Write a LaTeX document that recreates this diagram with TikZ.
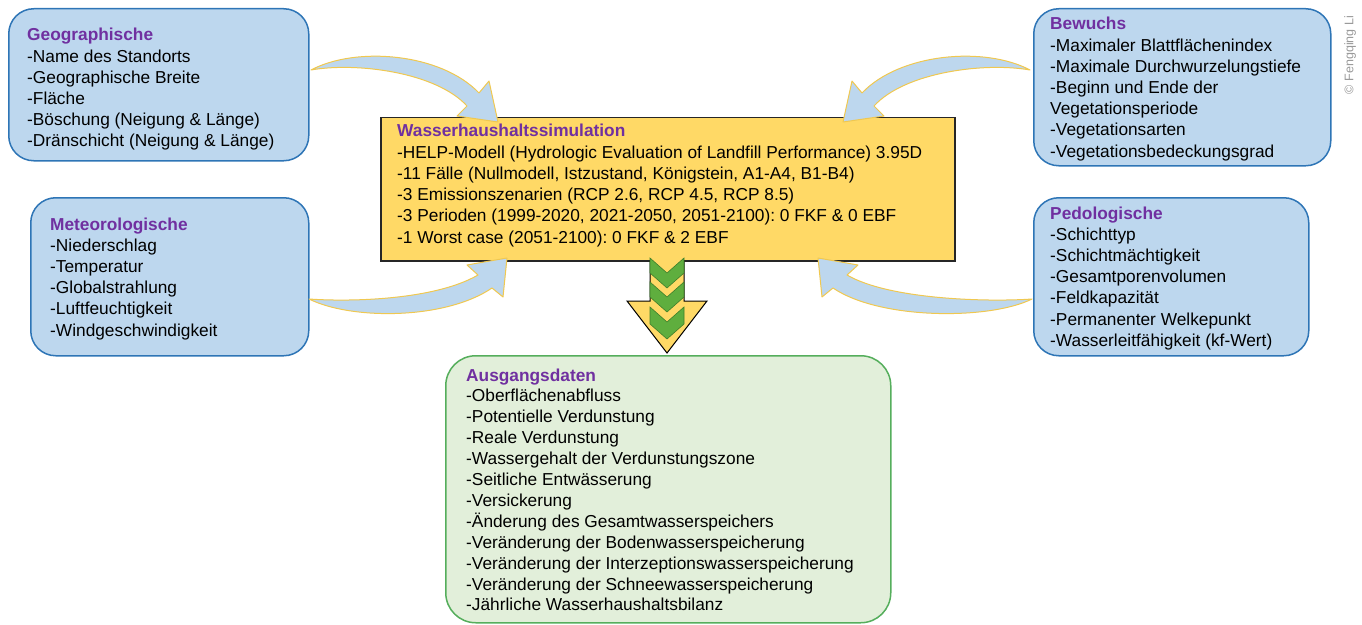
\documentclass[tikz,border=0pt]{standalone}
\usepackage{fontspec}
\setmainfont{Liberation Sans}
\definecolor{bfill}{HTML}{BDD7EE}
\definecolor{bline}{HTML}{2E75B6}
\definecolor{yfill}{HTML}{FFD966}
\definecolor{gfill}{HTML}{E2EFDA}
\definecolor{gline}{HTML}{55AE5C}
\definecolor{chev}{HTML}{5FAE3E}
\definecolor{chevline}{HTML}{3F7F2A}
\definecolor{ttlcol}{HTML}{7030A0}
\definecolor{arrline}{HTML}{F0C850}
\newcommand\ttl[1]{\textcolor{ttlcol}{\bfseries #1}}
\frenchspacing
\begin{document}
\begin{tikzpicture}[x=1bp,y=-1bp,
  bluebox/.style={draw=bline, line width=1.5bp, fill=bfill, rounded corners=25bp, anchor=north west, inner sep=0pt},
  centerbox/.style={draw=black!85, line width=1.5bp, fill=yfill, anchor=north west, inner sep=0pt},
  greenbox/.style={draw=gline, line width=1.5bp, fill=gfill, rounded corners=30bp, anchor=north west, inner sep=0pt},
  txt/.style={anchor=base west, inner sep=0pt, font=\fontsize{17.3bp}{21.2bp}\selectfont},
  curvarr/.style={fill=bfill, draw=arrline, line width=1bp, line join=round},
  downarr/.style={fill=yfill, draw=black, line width=1bp, line join=miter},
  chevron/.style={fill=chev, draw=chevline, line width=0.6bp}
]
\useasboundingbox (0,0) rectangle (1362,625);

% boxes
\node[bluebox, minimum width=300bp, minimum height=152bp] (geo) at (8,8) {};
\node[bluebox, minimum width=278bp, minimum height=158bp] (met) at (30,197) {};
\node[bluebox, minimum width=297bp, minimum height=157bp] (bew) at (1033,8) {};
\node[bluebox, minimum width=275bp, minimum height=158bp] (ped) at (1033,197) {};
\node[centerbox, minimum width=574bp, minimum height=143bp] (sim) at (380,117) {};
\node[greenbox, minimum width=445bp, minimum height=267bp] (aus) at (445,355) {};

% texts
\node[txt] (geotxt) at (27,41) {\begin{tabular}[t]{@{}l@{}}\ttl{Geographische}\\-Name des Standorts\\-Geographische Breite\\-Fläche\\-Böschung (Neigung \& Länge)\\-Dränschicht (Neigung \& Länge)\end{tabular}};
\node[txt] (mettxt) at (50,230) {\begin{tabular}[t]{@{}l@{}}\ttl{Meteorologische}\\-Niederschlag\\-Temperatur\\-Globalstrahlung\\-Luftfeuchtigkeit\\-Windgeschwindigkeit\end{tabular}};
\node[txt] (bewtxt) at (1050,30) {\begin{tabular}[t]{@{}l@{}}\ttl{Bewuchs}\\-Maximaler Blattflächenindex\\-Maximale Durchwurzelungstiefe\\-Beginn und Ende der\\Vegetationsperiode\\-Vegetationsarten\\-Vegetationsbedeckungsgrad\end{tabular}};
\node[txt] (pedtxt) at (1050,219) {\begin{tabular}[t]{@{}l@{}}\ttl{Pedologische}\\-Schichttyp\\-Schichtmächtigkeit\\-Gesamtporenvolumen\\-Feldkapazität\\-Permanenter Welkepunkt\\-Wasserleitfähigkeit (kf-Wert)\end{tabular}};
\node[txt] (simtxt) at (397,137) {\begin{tabular}[t]{@{}l@{}}\ttl{Wasserhaushaltssimulation}\\-HELP-Modell (Hydrologic Evaluation of Landfill Performance) 3.95D\\-11 Fälle (Nullmodell, Istzustand, Königstein, A1-A4, B1-B4)\\-3 Emissionszenarien (RCP 2.6, RCP 4.5, RCP 8.5)\\-3 Perioden (1999-2020, 2021-2050, 2051-2100): 0 FKF \& 0 EBF\\-1 Worst case (2051-2100): 0 FKF \& 2 EBF\end{tabular}};
\node[txt, font=\fontsize{17.3bp}{20.9bp}\selectfont] (austxt) at (466,381) {\begin{tabular}[t]{@{}l@{}}\ttl{Ausgangsdaten}\\-Oberflächenabfluss\\-Potentielle Verdunstung\\-Reale Verdunstung\\-Wassergehalt der Verdunstungszone\\-Seitliche Entwässerung\\-Versickerung\\-Änderung des Gesamtwasserspeichers\\-Veränderung der Bodenwasserspeicherung\\-Veränderung der Interzeptionswasserspeicherung\\-Veränderung der Schneewasserspeicherung\\-Jährliche Wasserhaushaltsbilanz\end{tabular}};

% curved arrows
% top right (Bewuchs -> simulation)
\draw[curvarr] (1030,70) .. controls (985,46) and (900,53) .. (862,93) -- (852,81) -- (843,122) -- (884,116) -- (874,106) .. controls (905,72) and (985,62) .. (1030,70) -- cycle;
% top left (Geographische -> simulation)
\draw[curvarr] (311,70) .. controls (356,46) and (441,53) .. (479,93) -- (489,81) -- (498,122) -- (457,116) -- (467,106) .. controls (436,72) and (356,62) .. (311,70) -- cycle;
% bottom right (Pedologische -> simulation)
\draw[curvarr] (1032,299) .. controls (990,320) and (880,320) .. (833,288) -- (822,297) -- (818,258) -- (858,265) -- (847,275) .. controls (890,300) and (990,302) .. (1032,299) -- cycle;
% bottom left (Meteorologische -> simulation)
\draw[curvarr] (309,299) .. controls (351,320) and (445,320) .. (492,288) -- (503,297) -- (507,258) -- (467,265) -- (478,275) .. controls (435,300) and (351,302) .. (309,299) -- cycle;

% down arrow
\draw[downarr] (650,260) -- (650,301) -- (627,301) -- (667,353) -- (707,301) -- (684,301) -- (684,260);
\foreach \yy/\hh in {258/15, 282/15, 307/17}{
  \draw[chevron] (650,\yy) -- (667,{\yy+15}) -- (684,\yy) -- (684,{\yy+\hh}) -- (667,{\yy+\hh+15}) -- (650,{\yy+\hh}) -- cycle;
}

% copyright
\node[rotate=90, text=black!40, inner sep=0pt, font=\fontsize{12.5bp}{14bp}\selectfont] (copy) at (1350,55) {© Fengqing Li};
\end{tikzpicture}
\end{document}
